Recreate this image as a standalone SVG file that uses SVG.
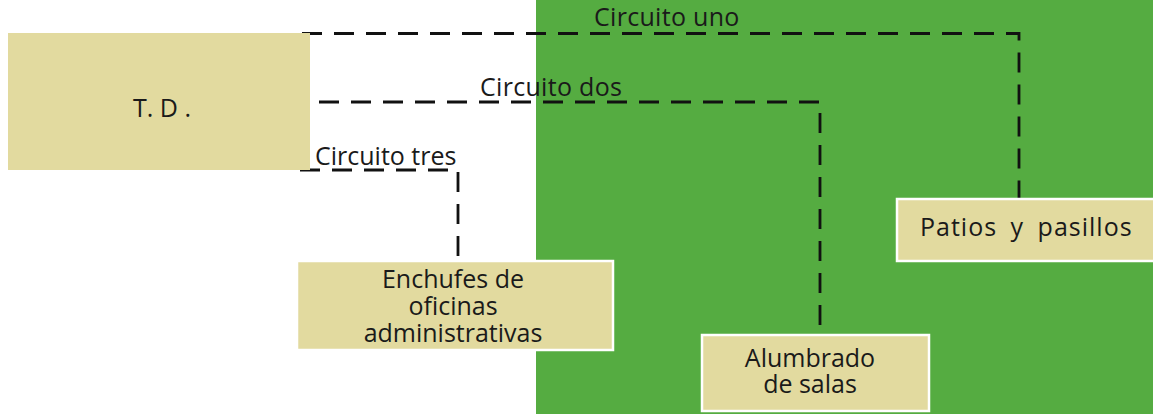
<svg xmlns="http://www.w3.org/2000/svg" width="1153" height="414" viewBox="0 0 1153 414">
<style>
.box{fill:#e2da9f;stroke:#ffffff;stroke-width:2.5}
.t{font-family:"Open Sans","Noto Sans","DejaVu Sans",sans-serif;font-size:25px;fill:#1a1a1a}
.c{text-anchor:middle}
.wire{fill:none;stroke:#111111;stroke-width:2.8;stroke-dasharray:20 12}
</style>
<rect x="0" y="0" width="1153" height="414" fill="#ffffff"/>
<rect id="zona" x="536" y="0" width="617" height="414" fill="#55ac41"/>
<g id="connectors">
<path class="wire" d="M302 33.5 H1019 V198"/>
<path class="wire" d="M319 102 H820 V327"/>
<path class="wire" d="M300 170 H458 V256"/>
<text class="t" x="594" y="26" letter-spacing="0.3">Circuito uno</text>
<text class="t" x="480" y="96" letter-spacing="0.3">Circuito dos</text>
<text class="t" x="315" y="165">Circuito tres</text>
</g>
<g id="td">
<rect x="8" y="33" width="302" height="137" fill="#e2da9f"/>
<text class="t c" x="162" y="117" font-size="22">T. D .</text>
</g>
<g id="patios">
<rect class="box" x="897" y="199" width="262" height="62"/>
<text class="t" x="920" y="236" letter-spacing="1" word-spacing="6">Patios y pasillos</text>
</g>
<g id="enchufes">
<rect class="box" x="297" y="261" width="316" height="89"/>
<text class="t c" x="453" y="288">Enchufes de</text>
<text class="t c" x="453" y="315">oficinas</text>
<text class="t c" x="453" y="342">administrativas</text>
</g>
<g id="alumbrado">
<rect class="box" x="702" y="335" width="227" height="76"/>
<text class="t c" x="810" y="367">Alumbrado</text>
<text class="t c" x="810" y="393">de salas</text>
</g>
</svg>
